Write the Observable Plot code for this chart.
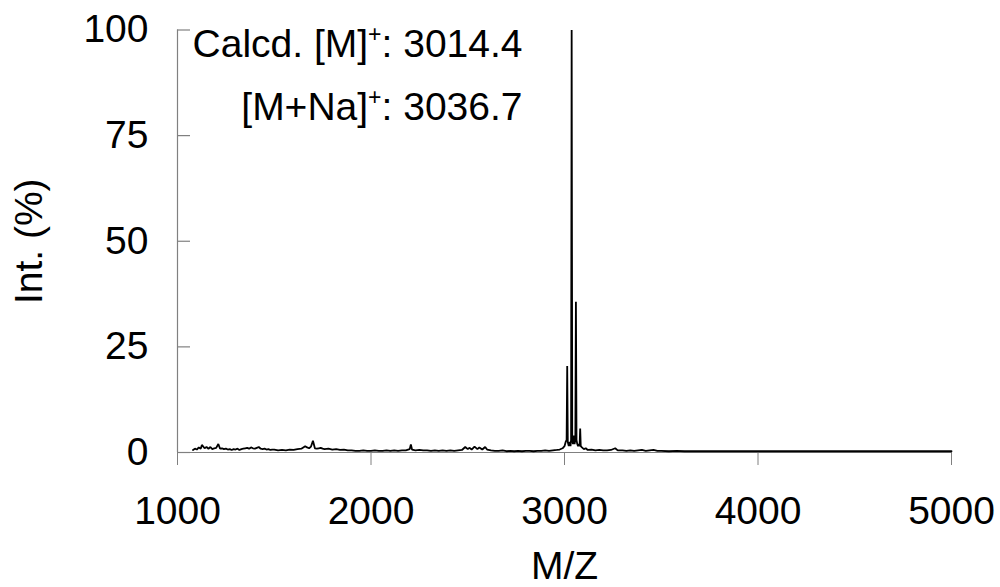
<!DOCTYPE html>
<html>
<head>
<meta charset="utf-8">
<script src="https://cdn.jsdelivr.net/npm/d3@7"></script>
<script src="https://cdn.jsdelivr.net/npm/@observablehq/plot@0.6"></script>
<style>
  html, body { margin: 0; padding: 0; background: #fff; }
</style>
</head>
<body>
<div id="chart"></div>
<script>
// m/z values of the spectrum trace
const mz = [
  1080, 1090, 1100, 1110, 1120, 1126, 1140, 1150, 1160, 1170, 1180, 1190, 1200, 1211, 1220, 1230,
  1240, 1250, 1260, 1270, 1280, 1290, 1300, 1310, 1320, 1330, 1340, 1350, 1360, 1370, 1380, 1390,
  1400, 1410, 1420, 1430, 1440, 1450, 1460, 1470, 1480, 1490, 1500, 1520, 1540, 1560, 1580, 1600,
  1620, 1640, 1660, 1670, 1680, 1690, 1700, 1710, 1720, 1730, 1740, 1750, 1760, 1780, 1800, 1820,
  1840, 1860, 1880, 1900, 1920, 1940, 1960, 1980, 2000, 2020, 2040, 2060, 2080, 2100, 2120, 2140,
  2160, 2180, 2200, 2206, 2212, 2230, 2250, 2270, 2290, 2310, 2330, 2350, 2370, 2390, 2410, 2430,
  2450, 2470, 2487, 2500, 2510, 2520, 2535, 2550, 2560, 2575, 2590, 2600, 2620, 2640, 2660, 2680,
  2700, 2720, 2740, 2760, 2780, 2800, 2820, 2840, 2860, 2880, 2900, 2920, 2940, 2960, 2975, 2990,
  3000, 3006, 3011, 3014, 3017, 3022, 3027, 3031, 3034, 3037, 3040, 3044, 3048, 3052, 3056, 3059,
  3062, 3066, 3070, 3074, 3078, 3081, 3084, 3090, 3100, 3110, 3120, 3140, 3160, 3180, 3200, 3220,
  3240, 3262, 3275, 3300, 3320, 3340, 3360, 3380, 3400, 3420, 3440, 3460, 3480, 3500, 3540, 3580,
  3620, 3660, 3700, 3750, 3800, 3850, 3900, 3950, 4000, 4050, 4100, 4150, 4200, 4250, 4300, 4350,
  4400, 4450, 4500, 4550, 4600, 4650, 4700, 4750, 4800, 4850, 4900, 4950, 5000
];
// relative intensity (%) at each m/z
const intensity = [
  0.6, 0.9, 0.7, 1.2, 0.9, 1.8, 1.0, 1.3, 0.9, 1.3, 0.8, 1.0, 1.1, 2.0, 0.9, 1.0,
  0.8, 0.9, 0.7, 0.8, 0.6, 0.8, 0.7, 0.9, 0.6, 0.8, 0.9, 1.0, 1.1, 0.9, 1.2, 1.0,
  0.9, 1.1, 1.3, 0.9, 0.8, 0.9, 0.7, 0.8, 0.6, 0.7, 0.7, 0.5, 0.6, 0.5, 0.7, 0.6,
  0.8, 0.9, 1.5, 1.2, 1.0, 1.4, 2.8, 1.0, 0.9, 1.0, 1.1, 0.9, 0.8, 0.9, 0.7, 0.8,
  0.6, 0.7, 0.5, 0.5, 0.4, 0.4, 0.5, 0.4, 0.4, 0.5, 0.4, 0.4, 0.5, 0.4, 0.5, 0.4,
  0.5, 0.5, 0.8, 1.9, 0.7, 0.5, 0.6, 0.5, 0.5, 0.4, 0.5, 0.4, 0.5, 0.4, 0.5, 0.4,
  0.5, 0.6, 1.3, 0.8, 1.1, 0.7, 1.4, 0.8, 1.2, 0.7, 1.3, 0.7, 0.5, 0.4, 0.4, 0.5,
  0.3, 0.4, 0.3, 0.4, 0.3, 0.4, 0.4, 0.3, 0.4, 0.4, 0.5, 0.4, 0.5, 0.6, 0.7, 1.0,
  1.5, 2.5, 3.0, 20.5, 2.5, 1.5, 2.5, 1.5, 3.0, 100, 3.0, 2.0, 4.0, 2.0, 3.0, 35.7,
  3.0, 2.0, 1.5, 2.0, 1.5, 5.7, 1.5, 1.2, 0.8, 1.0, 0.6, 0.7, 0.5, 0.6, 0.5, 0.5,
  0.6, 1.0, 0.5, 0.5, 0.4, 0.5, 0.4, 0.5, 0.6, 0.4, 0.5, 0.6, 0.4, 0.4, 0.3, 0.4,
  0.3, 0.3, 0.3, 0.3, 0.3, 0.3, 0.3, 0.3, 0.3, 0.3, 0.3, 0.3, 0.3, 0.3, 0.3, 0.3,
  0.3, 0.3, 0.3, 0.3, 0.3, 0.3, 0.3, 0.3, 0.3, 0.3, 0.3, 0.3, 0.3
];
const xTicks = [1000, 2000, 3000, 4000, 5000];
const yTicks = [0, 25, 50, 75, 100];
const xLabel = "M/Z";
const yLabel = "Int. (%)";
const annotations = ["Calcd. [M]+: 3014.4", "[M+Na]+: 3036.7"];

const spectrum = mz.map((m, i) => ({mz: m, int: intensity[i]}));
const axisGray = "#808080";
const W = 1000, H = 587, mL = 177, mR = 49, mT = 29.5, mB = 135;

const chart = Plot.plot({
  width: W,
  height: H,
  marginLeft: mL,
  marginRight: mR,
  marginTop: mT,
  marginBottom: mB,
  style: {fontFamily: "'Liberation Sans', Arial, sans-serif", fontSize: "39px", color: "#000", background: "#fff"},
  x: {domain: [1000, 5000]},
  y: {domain: [0, 100]},
  marks: [
    Plot.ruleX([1000], {stroke: axisGray, strokeWidth: 1.2}),
    Plot.ruleY([0], {stroke: axisGray, strokeWidth: 1.2}),
    Plot.tickY(yTicks, {y: d => d, stroke: axisGray, strokeWidth: 1.2, insetRight: W - mL - mR - 13}),
    Plot.axisY({ticks: yTicks, tickSize: 0, tickPadding: 29, tickFormat: d => String(d), label: null, fill: "#000"}),
    Plot.axisX({ticks: xTicks, tickSize: 13, tickPadding: 31, tickFormat: d => String(d), label: null, stroke: axisGray, fill: "#000"}),
    Plot.line(spectrum, {x: "mz", y: "int", stroke: "#000", strokeWidth: 1.8, strokeLinejoin: "miter"}),
    Plot.text([xLabel], {frameAnchor: "bottom", dy: 114, textAnchor: "middle", lineAnchor: "middle", fill: "#000"}),
    Plot.text([yLabel], {frameAnchor: "left", dx: -148, rotate: -90, textAnchor: "middle", lineAnchor: "middle", fill: "#000"}),
    Plot.text([annotations[0]], {frameAnchor: "top-left", dx: 345, dy: 14.5, textAnchor: "end", lineAnchor: "middle", fill: "#000"}),
    Plot.text([annotations[1]], {frameAnchor: "top-left", dx: 345, dy: 77.5, textAnchor: "end", lineAnchor: "middle", fill: "#000"})
  ]
});

// render the "+" as a superscript
chart.querySelectorAll("text").forEach(t => {
  const s = t.textContent;
  const k = s.indexOf("]+");
  if (k < 0 || t.querySelector("tspan")) return;
  const ns = "http://www.w3.org/2000/svg";
  t.textContent = "";
  t.appendChild(document.createTextNode(s.slice(0, k + 1)));
  const sup = document.createElementNS(ns, "tspan");
  sup.setAttribute("dy", "-15");
  sup.setAttribute("font-size", "23px");
  sup.textContent = "+";
  t.appendChild(sup);
  const rest = document.createElementNS(ns, "tspan");
  rest.setAttribute("dy", "15");
  rest.textContent = s.slice(k + 2);
  t.appendChild(rest);
});

document.getElementById("chart").appendChild(chart);
</script>
</body>
</html>
